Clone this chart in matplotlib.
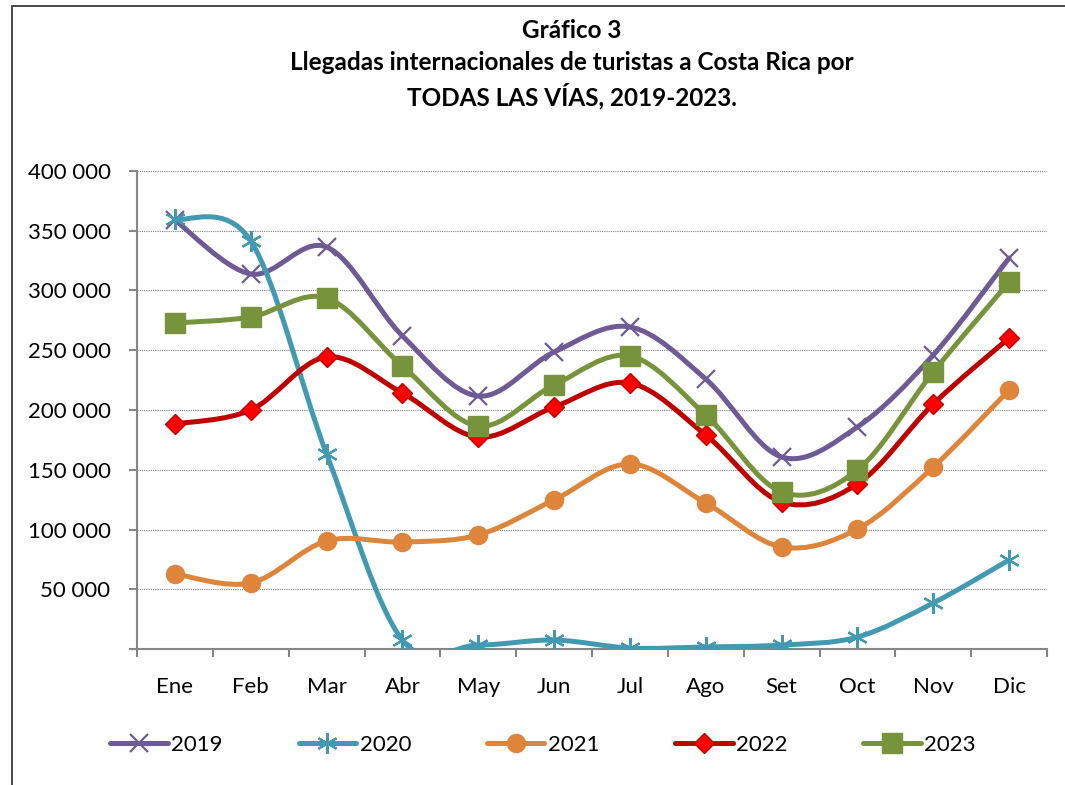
import numpy as np
import matplotlib.pyplot as plt
from matplotlib.path import Path
from matplotlib.patches import PathPatch, Rectangle
from matplotlib.lines import Line2D
from matplotlib.ticker import FuncFormatter, MultipleLocator

plt.rcParams['font.family'] = ['Lato', 'DejaVu Sans']

########### Data ###########

meses = ['Ene', 'Feb', 'Mar', 'Abr', 'May', 'Jun', 'Jul', 'Ago', 'Set', 'Oct', 'Nov', 'Dic']

v2019 = [359000, 313800, 336400, 262000, 211700, 248500, 269500, 225900, 160700, 185800, 246000, 327200]
v2020 = [359800, 341400, 163200, 7500, 3300, 7500, 800, 1700, 3300, 10000, 38500, 74500]
v2021 = [62800, 55200, 90400, 89500, 95400, 124700, 154800, 122200, 85400, 100400, 152300, 216700]
v2022 = [188300, 200000, 244400, 214200, 177400, 202500, 222600, 179100, 123000, 138100, 205000, 260300]
v2023 = [272800, 277800, 293700, 236800, 186600, 220900, 245200, 195800, 131400, 149800, 231800, 307100]

series = [
    # label, values, line colour, marker, marker face, marker edge, marker size
    ('2019', v2019, '#6E5A94', 'x', '#6E5A94', '#6E5A94', 13),
    ('2020', v2020, '#4299B2', (6, 2, 0), '#4299B2', '#4299B2', 15),
    ('2021', v2021, '#DF843B', 'o', '#DF843B', '#DF843B', 13),
    ('2022', v2022, '#C00000', 'D', '#FF0000', '#C00000', 10),
    ('2023', v2023, '#77933C', 's', '#77933C', '#77933C', 14),
]

W, H = 1065, 785


def smooth_path(x, y):
    # Excel-like smoothed line: cubic Bezier segments through every point
    n = len(x)
    P = np.column_stack([x, y]).astype(float)
    verts = [P[0]]
    codes = [Path.MOVETO]
    for i in range(n - 1):
        p_prev = P[i - 1] if i > 0 else P[i]
        p_next2 = P[i + 2] if i + 2 < n else P[i + 1]
        c1 = P[i] + (P[i + 1] - p_prev) / 6
        c2 = P[i + 1] - (p_next2 - P[i]) / 6
        verts += [c1, c2, P[i + 1]]
        codes += [Path.CURVE4] * 3
    return Path(verts, codes)


fig = plt.figure(figsize=(W / 100, H / 100), dpi=100)
ax = fig.add_axes([137 / W, 1 - 649 / H, (1047 - 137) / W, (649 - 171) / H])

xs = np.arange(len(meses))
handles = []
for k, (lab, vals, col, mk, mfc, mec, ms) in enumerate(series):
    patch = PathPatch(smooth_path(xs, vals), fill=False, ec=col, lw=3.6,
                      capstyle='round', joinstyle='round', zorder=2 + k)
    ax.add_patch(patch)
    mew = 1.6 if mk in ('x',) or isinstance(mk, tuple) else 1.0
    ax.plot(xs, vals, linestyle='none', marker=mk, ms=ms, mfc=mfc, mec=mec,
            mew=mew, zorder=2.5 + k)
    handles.append(Line2D([], [], color=col, lw=3.6, marker=mk, ms=ms,
                          mfc=mfc, mec=mec, mew=mew, solid_capstyle='round'))

ax.set_xlim(-0.5, 11.5)
ax.set_ylim(0, 400000)

# ticks
ax.set_xticks(xs)
ax.set_xticklabels(meses)
ax.set_xticks(np.arange(-0.5, 12, 1), minor=True)
ax.tick_params(axis='x', which='major', length=0, pad=20, labelsize=16)
ax.tick_params(axis='x', which='minor', length=6, width=1.5, color='#868686', direction='out')
ax.yaxis.set_major_locator(MultipleLocator(50000))
ax.yaxis.set_major_formatter(FuncFormatter(
    lambda v, p: '' if v == 0 else '{:,.0f}'.format(v).replace(',', ' ')))
ax.tick_params(axis='y', length=6, width=1.5, color='#868686', direction='out',
               pad=13, labelsize=16)

ax.grid(axis='y', linestyle=(0, (1, 1)), color='#7f7f7f', lw=0.8)
ax.set_axisbelow(True)
for s in ['top', 'right']:
    ax.spines[s].set_visible(False)
for s in ['left', 'bottom']:
    ax.spines[s].set_color('#868686')
    ax.spines[s].set_linewidth(1.5)

# titles
fig.text(572 / W, 1 - 31 / H, 'Gráfico 3', ha='center', va='center',
         fontsize=17.5, fontweight='bold')
fig.text(572 / W, 1 - 62 / H, 'Llegadas internacionales de turistas a Costa Rica por',
         ha='center', va='center', fontsize=17.5, fontweight='bold')
fig.text(572 / W, 1 - 96 / H, 'TODAS LAS VÍAS, 2019-2023.', ha='center', va='center',
         fontsize=17.5, fontweight='bold')

fig.legend(handles, [s[0] for s in series], loc='center',
           bbox_to_anchor=(543 / W, 1 - 745 / H), ncol=5, frameon=False,
           fontsize=16, handlelength=2.6, handletextpad=0.15, columnspacing=3.4)

# frame around the chart
fig.patches.append(Rectangle((12 / W, -0.1), 1.2, 1 - 6 / H + 0.1,
                             transform=fig.transFigure, fill=False,
                             ec='#3a3a3a', lw=1.3))

plt.savefig('out.png', dpi=100)
